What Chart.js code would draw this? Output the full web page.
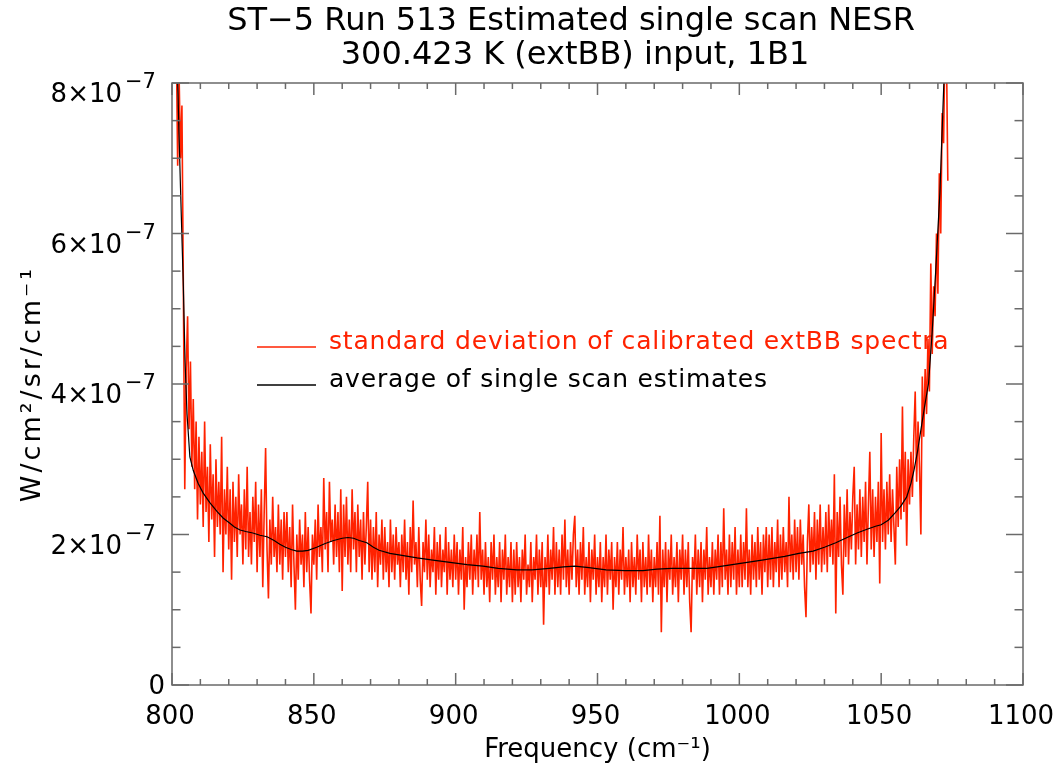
<!DOCTYPE html>
<html>
<head>
<meta charset="utf-8">
<script src="https://cdn.jsdelivr.net/npm/chart.js@4.4.0/dist/chart.umd.min.js"></script>
<style>
html, body { margin: 0; padding: 0; background: #fff; }
#wrap { width: 1061px; height: 764px; }
</style>
</head>
<body>
<div id="wrap"><canvas id="nesrChart" width="1061" height="764"></canvas></div>
<script>
// NESR values are in units of 1e-7 W/cm2/sr/cm-1
var titleLines = ['ST\u22125 Run 513 Estimated single scan NESR', '300.423 K (extBB) input, 1B1'];
var xTitle = 'Frequency (cm\u207B\u00B9)';
var yTitle = 'W/cm\u00B2/sr/cm\u207B\u00B9';
var xTicks = [800, 850, 900, 950, 1000, 1050, 1100];
var xMinorStep = 10;
var yTicks = [0, 2, 4, 6, 8];
var yTickMantissa = ['0', '2', '4', '6', '8'];
var yTickExponent = '\u22127';
var yMinorStep = 0.5;

// standard deviation of calibrated extBB spectra, every 0.5 cm-1 from 800.5
var stdStart = 800.5;
var stdStep = 0.5;
var stdDev = [
  9.5, 9.0, 8.6, 6.9, 8.1, 7.0, 7.7, 5.3, 2.6, 4.2, 4.9, 3.4, 4.3, 2.9, 3.8, 2.6, 3.5, 2.2, 3.3, 2.4,
  3.1, 2.1, 3.5, 2.3, 2.9, 1.9, 3.2, 2.2, 2.8, 1.7, 3.0, 2.1, 2.7, 2.0, 3.3, 1.5, 2.6, 2.0, 2.9, 1.8,
  2.6, 1.4, 2.7, 1.9, 2.5, 1.7, 2.8, 2.0, 2.4, 1.6, 2.6, 1.8, 2.9, 1.7, 2.3, 1.6, 2.5, 1.9, 2.7, 1.5,
  2.4, 1.7, 2.6, 1.3, 2.3, 3.15, 1.8, 1.15, 2.2, 1.6, 2.5, 1.7, 2.1, 1.5, 2.4, 1.6, 2.2, 1.4, 2.3, 1.7,
  2.3, 1.5, 2.1, 1.3, 2.4, 1.6, 1.0, 2.0, 1.4, 2.2, 1.6, 2.0, 1.3, 2.3, 1.5, 2.1, 1.4, 0.95, 2.0, 1.6,
  2.2, 1.4, 2.4, 1.7, 2.1, 1.5, 2.75, 1.8, 2.3, 1.5, 2.7, 1.9, 2.2, 1.6, 2.4, 1.7, 2.3, 1.5, 2.6, 1.25,
  2.4, 1.7, 2.5, 1.6, 2.2, 1.5, 2.6, 1.8, 2.3, 1.5, 2.4, 1.7, 2.2, 1.4, 2.3, 1.6, 2.1, 2.7, 1.5, 2.2,
  1.4, 2.1, 1.5, 2.3, 1.3, 2.0, 1.6, 2.2, 1.4, 2.1, 1.5, 1.9, 1.3, 2.2, 1.5, 2.0, 1.4, 2.1, 1.6, 1.9,
  1.3, 2.0, 1.5, 2.2, 1.4, 1.9, 1.2, 2.1, 1.5, 2.45, 1.6, 1.9, 1.3, 2.1, 1.4, 1.05, 1.9, 1.5, 2.2, 1.4,
  2.0, 1.3, 1.8, 1.5, 2.1, 1.2, 1.9, 1.4, 2.0, 1.3, 1.8, 1.5, 2.1, 1.2, 1.9, 1.4, 1.8, 1.3, 2.0, 1.4,
  1.9, 1.2, 1.8, 1.4, 2.1, 1.0, 1.7, 1.3, 1.9, 1.4, 2.0, 1.2, 1.8, 1.4, 2.0, 1.3, 2.3, 1.4, 1.8, 1.2,
  1.9, 1.3, 1.7, 1.1, 1.9, 1.4, 2.0, 1.2, 1.7, 1.3, 1.9, 1.1, 1.8, 1.4, 2.0, 1.2, 1.7, 1.3, 1.9, 1.1,
  1.8, 1.2, 1.9, 1.3, 1.7, 1.1, 1.8, 1.4, 2.0, 1.2, 1.6, 1.3, 1.9, 1.1, 1.7, 1.4, 2.0, 1.2, 1.8, 1.3,
  1.9, 0.8, 1.7, 1.3, 2.0, 1.2, 1.8, 1.4, 2.1, 1.2, 1.9, 1.3, 1.8, 1.2, 2.0, 1.4, 2.2, 1.3, 1.8, 1.2,
  1.9, 1.4, 2.0, 2.25, 1.3, 1.8, 1.2, 1.9, 1.4, 2.1, 1.2, 1.7, 1.3, 1.9, 1.1, 1.8, 1.4, 2.0, 1.2, 1.7,
  1.3, 1.9, 1.1, 1.7, 1.3, 2.0, 1.2, 1.8, 1.4, 1.9, 1.0, 1.7, 1.3, 1.9, 1.2, 1.8, 1.4, 2.1, 1.2, 1.7,
  1.3, 1.8, 1.1, 1.9, 1.3, 1.7, 1.2, 2.0, 1.4, 1.8, 1.1, 1.9, 1.3, 1.7, 1.2, 2.0, 1.3, 1.8, 1.1, 1.7,
  1.3, 1.9, 1.2, 2.25, 0.7, 1.8, 1.3, 1.9, 1.1, 1.8, 1.4, 2.0, 1.2, 1.7, 1.3, 1.9, 1.1, 1.8, 1.4, 2.0,
  1.2, 1.8, 1.3, 1.9, 1.1, 0.7, 1.7, 1.4, 2.0, 1.2, 1.8, 1.3, 1.9, 1.1, 1.8, 1.4, 2.1, 1.2, 1.7, 1.3,
  1.9, 1.2, 1.8, 1.4, 2.0, 1.2, 1.9, 1.3, 2.35, 1.4, 1.8, 1.2, 2.0, 1.3, 1.9, 1.4, 2.1, 1.2, 1.8, 1.3,
  2.0, 1.3, 1.9, 1.4, 2.35, 1.3, 1.8, 1.2, 2.0, 1.4, 1.9, 1.3, 2.1, 1.4, 1.9, 1.2, 2.0, 1.5, 2.1, 1.3,
  2.0, 1.4, 2.1, 1.3, 1.9, 1.5, 2.2, 1.3, 2.0, 1.4, 2.1, 1.5, 1.9, 1.3, 2.5, 1.5, 2.0, 1.4, 2.2, 1.5,
  2.1, 1.4, 2.2, 1.6, 2.0, 1.3, 0.9, 1.9, 2.4, 1.5, 2.1, 1.6, 2.3, 1.4, 2.2, 1.6, 2.4, 1.5, 2.1, 1.6,
  2.3, 1.5, 2.4, 1.7, 2.2, 1.6, 2.8, 0.95, 2.3, 1.7, 2.5, 1.6, 1.2, 2.4, 1.7, 2.6, 1.6, 2.3, 1.8, 2.5,
  2.9, 1.6, 2.4, 1.8, 2.6, 1.7, 2.5, 1.9, 2.7, 1.6, 2.4, 3.1, 1.8, 2.6, 1.7, 2.5, 1.9, 2.7, 1.35, 3.35,
  1.9, 2.6, 1.8, 2.7, 2.0, 2.8, 1.9, 2.6, 2.1, 1.6, 2.9, 2.1, 3.0, 2.2, 3.7, 2.3, 3.1, 1.85, 3.0, 2.4,
  3.1, 2.5, 3.3, 3.9, 2.7, 3.5, 2.9, 2.0, 4.1, 3.3, 4.2, 3.6, 4.6, 3.9, 5.6, 4.4, 5.3, 4.9, 6.0, 5.2,
  6.8, 6.0, 7.6, 7.2, 8.6, 8.5, 6.7
];

// average of single scan estimates
var avgFreq = [801.5, 802, 803, 804, 804.6, 805.3, 806.3, 807.5, 809.2, 811, 813.4, 816, 818, 820.4, 822, 824,
  826, 828.5, 831, 833.5, 836, 838, 840, 842, 844, 846, 848, 851, 854, 857, 860, 862, 864, 866, 868.7, 871,
  873, 876.8, 880, 886.4, 892, 898, 904, 909.6, 915, 921.6, 927, 933, 938, 942, 947, 953, 959.7, 966, 971,
  976, 982, 988.6, 994, 1001, 1008, 1016, 1021, 1026, 1030, 1034, 1038, 1041.5, 1045, 1048, 1050, 1052.5,
  1055, 1057, 1059, 1060.5, 1061.6, 1062.8, 1064, 1065.3, 1066.7, 1068, 1069.3, 1070.7, 1072.1, 1072.6];
var avgValue = [8.4, 8.0, 6.6, 5.3, 4.3, 3.6, 3.03, 2.85, 2.68, 2.55, 2.42, 2.3, 2.22, 2.15, 2.1, 2.06,
  2.04, 2.02, 1.99, 1.97, 1.92, 1.87, 1.83, 1.8, 1.78, 1.78, 1.79, 1.83, 1.88, 1.92, 1.95, 1.96, 1.95, 1.92, 1.89, 1.83,
  1.79, 1.75, 1.73, 1.69, 1.66, 1.63, 1.6, 1.58, 1.55, 1.53, 1.53, 1.55, 1.57, 1.58, 1.56, 1.53, 1.52, 1.52, 1.54,
  1.55, 1.55, 1.55, 1.58, 1.62, 1.66, 1.71, 1.75, 1.78, 1.83, 1.89, 1.96, 2.02, 2.07, 2.11, 2.13, 2.19,
  2.29, 2.38, 2.5, 2.68, 2.86, 3.1, 3.39, 3.7, 4.01, 4.7, 5.55, 6.54, 8.0, 8.5];

var stdColor = '#ff2200';
var avgColor = '#000000';
var axisColor = '#6a6a6a';
var fontFamily = '"DejaVu Sans", sans-serif';

var stdPoints = stdDev.map(function (v, i) { return { x: stdStart + i * stdStep, y: v }; });
var avgPoints = avgFreq.map(function (f, i) { return { x: f, y: avgValue[i] }; });

function putText(ctx, str, x, y, size, color, align, spacing) {
    ctx.save();
    ctx.font = size + 'px ' + fontFamily;
    ctx.fillStyle = color;
    ctx.textBaseline = 'alphabetic';
    ctx.textAlign = align;
    if (spacing) ctx.letterSpacing = spacing + 'px';
    ctx.fillText(str, x, y);
    ctx.restore();
}

function tickLine(ctx, x1, y1, x2, y2) {
    ctx.beginPath();
    ctx.moveTo(x1, y1);
    ctx.lineTo(x2, y2);
    ctx.stroke();
}

var idlFrame = {
    id: 'idlFrame',
    beforeDatasetsDraw: function (chart) {
        var ctx = chart.ctx;
        var rows = [347, 385];
        [chart.data.datasets[1], chart.data.datasets[0]].forEach(function (ds, i) {
            ctx.save();
            ctx.strokeStyle = ds.borderColor;
            ctx.lineWidth = 1.5;
            tickLine(ctx, 257, rows[i], 316, rows[i]);
            ctx.restore();
            putText(ctx, ds.label, 329, rows[i] + 1.5, 25, ds.borderColor, 'left', 0.8);
        });
    },
    afterDraw: function (chart) {
        var ctx = chart.ctx;
        var a = chart.chartArea;
        var xs = chart.scales.x;
        var ys = chart.scales.y;

        ctx.save();
        ctx.strokeStyle = axisColor;
        ctx.lineWidth = 1.5;
        ctx.strokeRect(a.left, a.top, a.right - a.left, a.bottom - a.top);

        // ticks point inwards on all four sides
        for (var v = xs.min; v <= xs.max; v += xMinorStep) {
            var px = xs.getPixelForValue(v);
            var len = xTicks.indexOf(v) >= 0 ? 12 : 6;
            tickLine(ctx, px, a.bottom, px, a.bottom - len);
            tickLine(ctx, px, a.top, px, a.top + len);
        }
        for (var w = ys.min; w <= ys.max; w += yMinorStep) {
            var py = ys.getPixelForValue(w);
            var ylen = yTicks.indexOf(w) >= 0 ? 17 : 8.5;
            tickLine(ctx, a.left, py, a.left + ylen, py);
            tickLine(ctx, a.right, py, a.right - ylen, py);
        }
        ctx.restore();

        xTicks.forEach(function (t) {
            putText(ctx, String(t), xs.getPixelForValue(t) - 2, 724, 26, '#000', 'center');
        });
        yTicks.forEach(function (t, i) {
            var py = ys.getPixelForValue(t);
            if (yTickMantissa[i] === '0') {
                putText(ctx, '0', 165, py + 9, 26, '#000', 'right');
            } else {
                putText(ctx, yTickMantissa[i] + '\u00D710', 122, py + 19, 26, '#000', 'right');
                putText(ctx, yTickExponent, 125, py + 5, 21, '#000', 'left');
            }
        });

        putText(ctx, titleLines[0], 571, 30, 32, '#000', 'center');
        putText(ctx, titleLines[1], 575, 64, 32, '#000', 'center');
        putText(ctx, xTitle, (a.left + a.right) / 2, 757, 26, '#000', 'center');

        ctx.save();
        ctx.translate(40, (a.top + a.bottom) / 2);
        ctx.rotate(-Math.PI / 2);
        putText(ctx, yTitle, 0, 0, 27, '#000', 'center', 3);
        ctx.restore();
    }
};

var myChart = new Chart(document.getElementById('nesrChart'), {
    type: 'line',
    data: {
        datasets: [
            {
                label: 'average of single scan estimates',
                data: avgPoints,
                borderColor: avgColor,
                borderWidth: 1.2,
                pointRadius: 0,
                tension: 0,
                fill: false
            },
            {
                label: 'standard deviation of calibrated extBB spectra',
                data: stdPoints,
                borderColor: stdColor,
                borderWidth: 1.6,
                pointRadius: 0,
                tension: 0,
                fill: false
            }
        ]
    },
    options: {
        responsive: false,
        animation: false,
        events: [],
        layout: { padding: { left: 172, right: 38, top: 83, bottom: 79 } },
        plugins: {
            legend: { display: false },
            tooltip: { enabled: false },
            title: { display: false }
        },
        scales: {
            x: { type: 'linear', min: 800, max: 1100, display: false },
            y: { type: 'linear', min: 0, max: 8, display: false }
        }
    },
    plugins: [idlFrame]
});
</script>
</body>
</html>
